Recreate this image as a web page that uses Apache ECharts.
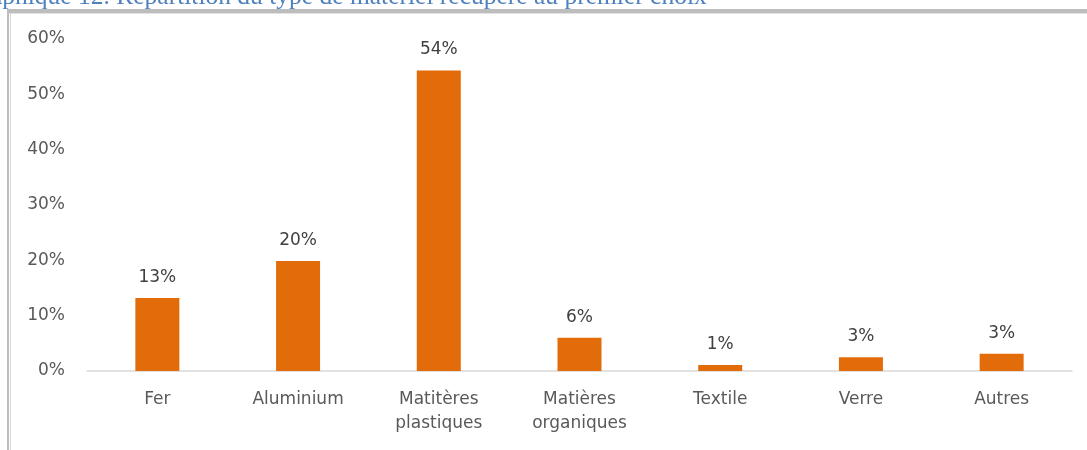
<!DOCTYPE html>
<html>
<head>
<meta charset="utf-8">
<script src="https://cdn.jsdelivr.net/npm/echarts@6/dist/echarts.min.js"></script>
<style>
  html, body { margin: 0; padding: 0; background: #fff; }
  #chart-container { width: 1087px; height: 450px; }
</style>
</head>
<body>
<div id="chart-container"></div>
<script>
// values, in percent
var categories = ['Fer', 'Aluminium', 'Matitères\nplastiques', 'Matières\norganiques', 'Textile', 'Verre', 'Autres'];
var shares = [13.2, 19.9, 54.3, 6.0, 1.1, 2.5, 3.1];
var yTicks = [0, 10, 20, 30, 40, 50, 60];
var caption = 'Graphique 12. Répartition du type de matériel récupéré au premier choix';

var dom = document.getElementById('chart-container');
var myChart = echarts.init(dom, null, { renderer: 'canvas' });

var font = '"DejaVu Sans", "Noto Sans", sans-serif';

var option = {
  animation: false,
  grid: { left: 87, right: 15, top: 39, bottom: 79 },
  graphic: [
    // caption, cut off at the top of the picture
    { type: 'text', left: -36, top: -16, silent: true,
      style: { text: caption, font: '25.5px "Liberation Serif", "DejaVu Serif", serif', fill: '#4f81bd' } },
    // frame of the chart box
    { type: 'rect', shape: { x: 7, y: 9, width: 1100, height: 4 }, style: { fill: '#bdbdbd' }, silent: true },
    { type: 'rect', shape: { x: 7, y: 13, width: 1100, height: 1 }, style: { fill: '#e3e3e3' }, silent: true },
    { type: 'rect', shape: { x: 7, y: 9, width: 2, height: 450 }, style: { fill: '#bdbdbd' }, silent: true },
    { type: 'rect', shape: { x: 10, y: 13, width: 1, height: 450 }, style: { fill: '#d6d6d6' }, silent: true }
  ],
  xAxis: {
    type: 'category',
    data: categories,
    axisTick: { show: false },
    axisLine: { lineStyle: { color: '#d9d9d9', width: 1.5 } },
    axisLabel: { color: '#595959', fontSize: 17, fontFamily: font, margin: 17, lineHeight: 24, interval: 0 }
  },
  yAxis: {
    type: 'value',
    min: yTicks[0],
    max: yTicks[yTicks.length - 1],
    interval: 10,
    splitLine: { show: false },
    axisLine: { show: false },
    axisTick: { show: false },
    axisLabel: { color: '#595959', fontSize: 17, fontFamily: font, margin: 22,
      formatter: function (v) { return v + '%'; } }
  },
  series: [{
    type: 'bar',
    data: shares,
    barWidth: 44,
    itemStyle: { color: '#e36c0a' },
    label: {
      show: true,
      position: 'top',
      distance: 12,
      color: '#404040',
      fontSize: 17,
      fontFamily: font,
      formatter: function (p) { return Math.round(p.value) + '%'; }
    }
  }]
};

myChart.setOption(option);
window.addEventListener('resize', myChart.resize);
</script>
</body>
</html>
